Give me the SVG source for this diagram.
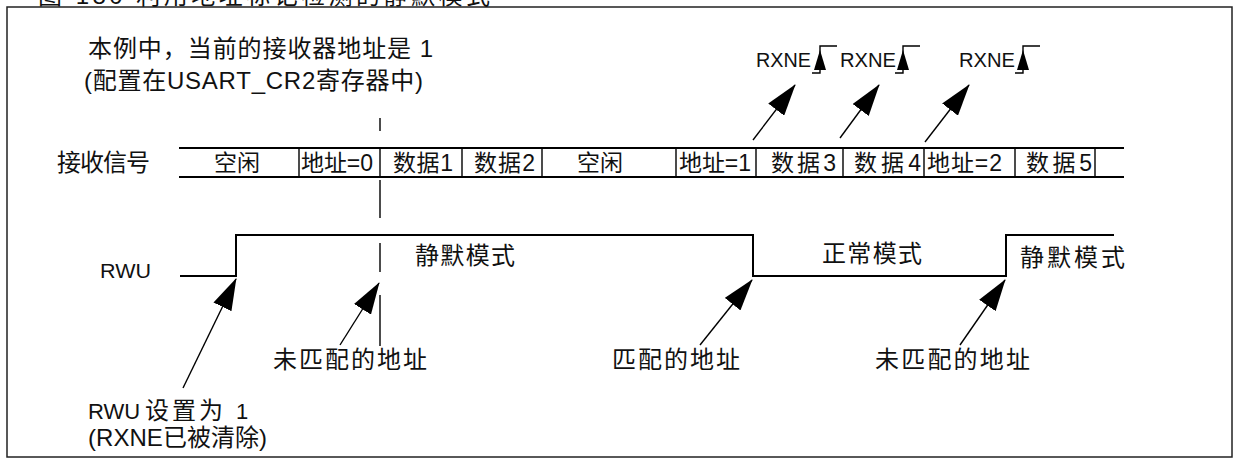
<svg xmlns="http://www.w3.org/2000/svg" width="1237" height="460" viewBox="0 0 1237 460">
<style>
.ln{stroke:#000;stroke-width:2;fill:none}
.th{stroke:#000;stroke-width:1.4;fill:none}
.t{font-family:"Liberation Sans","Noto Sans CJK SC",sans-serif;font-size:21px;fill:#111}
.c{font-family:"Liberation Sans","Noto Sans CJK SC",sans-serif;font-size:24px;fill:#111}
.s{font-family:"Liberation Sans","Noto Sans CJK SC",sans-serif;font-size:23px;fill:#111}
.ar{stroke:#000;stroke-width:1.4;fill:none;marker-end:url(#ah)}
</style>
<defs>
<marker id="ah" viewBox="0 0 32 20" refX="31" refY="10" markerWidth="32" markerHeight="20" markerUnits="userSpaceOnUse" orient="auto">
<path d="M0,0 L32,10 L0,20 z" fill="#000"/>
</marker>
<g id="edge">
<path d="M-8,27 H0 V0 H17" class="th"/>
<path d="M0,4 L-6,24 L6,24 z" fill="#000"/>
</g>
</defs>
<rect x="7" y="7" width="1225" height="450" fill="#fff" stroke="#222" stroke-width="1.5"/>
<text class="c" x="38" y="4" textLength="452" lengthAdjust="spacing">图 180 利用地址标记检测的静默模式</text>

<g id="note">
<text class="c" x="88" y="57" textLength="345" lengthAdjust="spacing">本例中，当前的接收器地址是 1</text>
<text class="c" x="84" y="89" textLength="339" lengthAdjust="spacing">(配置在USART_CR2寄存器中)</text>
</g>

<g id="rxne">
<text class="t" x="756" y="67" textLength="55" lengthAdjust="spacingAndGlyphs">RXNE</text>
<use href="#edge" x="820" y="46"/>
<text class="t" x="840" y="67" textLength="56" lengthAdjust="spacingAndGlyphs">RXNE</text>
<use href="#edge" x="903" y="46"/>
<text class="t" x="959" y="67" textLength="56" lengthAdjust="spacingAndGlyphs">RXNE</text>
<use href="#edge" x="1023" y="46"/>
</g>

<g id="signal">
<text class="c" x="57" y="171" textLength="93" lengthAdjust="spacing">接收信号</text>
<path class="ln" d="M179,148 H1124 M179,177 H1124"/>
<path class="th" d="M299,148 V177 M380,148 V177 M462,148 V177 M542,148 V177 M676,148 V177 M756,148 V177 M843,148 V177 M924,148 V177 M1015,148 V177 M1095,148 V177"/>
<text class="s" x="214" y="171" textLength="46" lengthAdjust="spacing">空闲</text>
<text class="s" x="301" y="171" textLength="72" lengthAdjust="spacing">地址=0</text>
<text class="s" x="393" y="171" textLength="60" lengthAdjust="spacing">数据1</text>
<text class="s" x="474" y="171" textLength="61" lengthAdjust="spacing">数据2</text>
<text class="s" x="577" y="171" textLength="46" lengthAdjust="spacing">空闲</text>
<text class="s" x="679" y="171" textLength="72" lengthAdjust="spacing">地址=1</text>
<text class="s" x="771" y="171" textLength="65" lengthAdjust="spacing">数据3</text>
<text class="s" x="854" y="171" textLength="67" lengthAdjust="spacing">数据4</text>
<text class="s" x="927" y="171" textLength="75" lengthAdjust="spacing">地址=2</text>
<text class="s" x="1026" y="171" textLength="66" lengthAdjust="spacing">数据5</text>
</g>

<g id="rwu">
<text class="t" x="100" y="278" textLength="51" lengthAdjust="spacingAndGlyphs">RWU</text>
<path class="ln" d="M180,276 H236 V235 H753 V276 H1006 V235 H1114"/>
<text class="c" x="415" y="264" textLength="100" lengthAdjust="spacing">静默模式</text>
<text class="c" x="822" y="262" textLength="100" lengthAdjust="spacing">正常模式</text>
<text class="c" x="1020" y="266" textLength="105" lengthAdjust="spacing">静默模式</text>
</g>

<g id="marker-line">
<path class="th" d="M380,118 V131 M380,180 V218 M380,243 V272 M380,295 V346"/>
</g>

<g id="labels">
<text class="c" x="273" y="368" textLength="154" lengthAdjust="spacing">未匹配的地址</text>
<text class="c" x="612" y="368" textLength="128" lengthAdjust="spacing">匹配的地址</text>
<text class="c" x="875" y="368" textLength="155" lengthAdjust="spacing">未匹配的地址</text>
<text class="c" x="88" y="419"><tspan style="font-size:22px">RWU</tspan><tspan x="145" letter-spacing="3">设置为</tspan><tspan x="236" style="font-size:22px">1</tspan></text>
<text class="c" x="88" y="446" textLength="179" lengthAdjust="spacing">(RXNE已被清除)</text>
</g>

<g id="connectors">
<line class="ar" x1="753" y1="140" x2="795" y2="85"/>
<line class="ar" x1="840" y1="138" x2="879" y2="85"/>
<line class="ar" x1="925" y1="142" x2="969" y2="85"/>
<line class="ar" x1="183" y1="388" x2="236" y2="279"/>
<line class="ar" x1="340" y1="345" x2="379" y2="283"/>
<line class="ar" x1="700" y1="345" x2="752" y2="280"/>
<line class="ar" x1="960" y1="345" x2="1005" y2="280"/>
</g>
</svg>
